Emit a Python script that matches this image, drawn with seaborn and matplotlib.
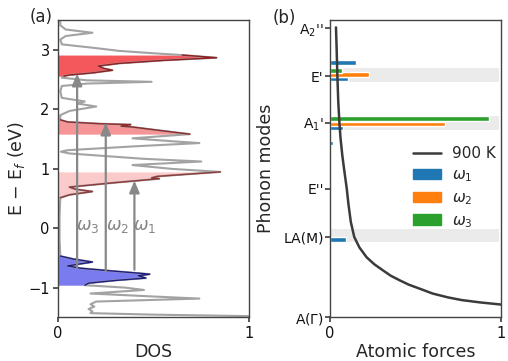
import numpy as np
import matplotlib
matplotlib.use("Agg")
import matplotlib.pyplot as plt
from matplotlib.lines import Line2D
from matplotlib.patches import Patch
import seaborn as sns

# ---------------- data: panel (a) DOS ----------------
dos_x = [0.012, 0.012, 0.04, 0.18, 0.04, 0.012, 0.02, 0.19, 0.32, 0.50,
         0.65, 0.83, 0.55, 0.32, 0.21, 0.24, 0.285, 0.18, 0.06, 0.03,
         0.02, 0.15, 0.49, 0.15, 0.02, 0.012, 0.02, 0.14, 0.10, 0.20,
         0.06, 0.012, 0.012, 0.05, 0.22, 0.38, 0.33, 0.39, 0.55, 0.69,
         0.39, 0.60, 0.74, 0.40, 0.05, 0.015, 0.06, 0.45, 0.75, 0.39,
         0.60, 0.85, 0.52, 0.49, 0.53, 0.30, 0.06, 0.09, 0.18, 0.06,
         0.012, 0.008, 0.008, 0.012, 0.08, 0.18, 0.05, 0.12, 0.28, 0.43,
         0.48, 0.42, 0.46, 0.30, 0.16, 0.14, 0.35, 0.45, 0.17, 0.50,
         0.74, 0.20, 0.17, 0.19, 0.16, 0.18, 0.17, 0.50, 1.20]
dos_e = [3.50, 3.41, 3.34, 3.285, 3.23, 3.17, 3.09, 3.03, 2.98, 2.94,
         2.91, 2.865, 2.82, 2.77, 2.725, 2.685, 2.655, 2.61, 2.575, 2.555,
         2.53, 2.485, 2.46, 2.43, 2.39, 2.30, 2.19, 2.13, 2.095, 2.045,
         1.97, 1.90, 1.82, 1.785, 1.755, 1.74, 1.715, 1.70, 1.635, 1.58,
         1.51, 1.46, 1.43, 1.375, 1.31, 1.285, 1.255, 1.165, 1.12, 1.06,
         0.995, 0.945, 0.87, 0.845, 0.83, 0.765, 0.69, 0.655, 0.615, 0.56,
         0.51, 0.20, -0.20, -0.47, -0.52, -0.57, -0.635, -0.675, -0.72, -0.76,
         -0.775, -0.80, -0.84, -0.88, -0.925, -0.96, -1.00, -1.04, -1.10, -1.15,
         -1.185, -1.235, -1.28, -1.32, -1.36, -1.40, -1.43, -1.455, -1.49]

# energy windows of the highlighted states (low, high)
win_low = [2.555, 1.58, 0.51, -0.96]
win_high = [2.91, 1.82, 0.945, -0.47]
win_fill = ["#f4585c", "#f69597", "#fbcaca", "#7b7bf0"]
win_edge = ["#8e1f22", "#8e2a2c", "#8e3a3a", "#1d1d80"]

# transitions
arrow_x = [0.40, 0.25, 0.10]
arrow_start = [-0.70, -0.72, -0.67]
arrow_end = [0.80, 1.775, 2.60]
arrow_labels = [r"$\omega_1$", r"$\omega_2$", r"$\omega_3$"]
label_x = [0.455, 0.31, 0.157]

# ---------------- data: panel (b) ----------------
mode_pos = [0.0, 0.270, 0.433, 0.654, 0.811, 0.972]
mode_labels = [r"A($\Gamma$)", "LA(M)", "E''", r"A$_1$'", "E'", r"A$_2$''"]

band_low = [0.792, 0.629, 0.253]
band_high = [0.837, 0.676, 0.297]

w1_pos = [0.857, 0.802, 0.638, 0.587, 0.262]
w1_val = [0.152, 0.107, 0.074, 0.020, 0.094]
w2_pos = [0.816, 0.651]
w2_val = [0.226, 0.673]
w3_pos = [0.830, 0.668]
w3_val = [0.070, 0.932]

curve_force = [1.0, 0.88, 0.77, 0.69, 0.60, 0.526, 0.46, 0.409, 0.355, 0.312,
               0.26, 0.214, 0.172, 0.142, 0.122, 0.108, 0.098, 0.082, 0.072,
               0.062, 0.055, 0.048, 0.043, 0.039, 0.035]
curve_mode = [0.043, 0.050, 0.058, 0.067, 0.080, 0.096, 0.110, 0.124, 0.140, 0.157,
              0.178, 0.202, 0.235, 0.270, 0.320, 0.380, 0.433, 0.500, 0.545,
              0.600, 0.654, 0.730, 0.815, 0.900, 0.975]

# ---------------- figure ----------------
sns.set_theme(style="ticks")
plt.rcParams["font.family"] = ["DejaVu Sans"]
spine_c = "#444444"
plt.rcParams.update({
    "axes.edgecolor": spine_c, "xtick.color": spine_c, "ytick.color": spine_c,
    "xtick.labelcolor": "#111111", "ytick.labelcolor": "#111111",
    "axes.linewidth": 1.0, "xtick.labelsize": 10.5, "ytick.labelsize": 10.5,
    "axes.labelsize": 12.5,
    "xtick.major.size": 3.5, "ytick.major.size": 3.5,
    "xtick.major.pad": 3.0, "ytick.major.pad": 2.5,
})

fig = plt.figure(figsize=(5.08, 3.61), dpi=100)
axa = fig.add_axes([0.1142, 0.1210, 0.376, 0.8237])
axb = fig.add_axes([0.6496, 0.1210, 0.3366, 0.8237])

# panel (a)
dx = np.array(dos_x)
de = np.array(dos_e)
axa.plot(dx, de, color="#a3a3a3", lw=1.5, zorder=2)
for lo, hi, fc, ec in zip(win_low, win_high, win_fill, win_edge):
    m = (de >= lo) & (de <= hi)
    axa.fill_betweenx(de[m], 0, dx[m], color=fc, lw=0, zorder=1)
    axa.plot(dx[m], de[m], color=ec, lw=1.0, zorder=3)

for x, y0, y1 in zip(arrow_x, arrow_start, arrow_end):
    axa.annotate("", xy=(x, y1), xytext=(x, y0),
                 arrowprops=dict(arrowstyle="-|>,head_length=0.6,head_width=0.25",
                                 color="#888888", lw=1.6, shrinkA=0, shrinkB=0),
                 zorder=4)
for lx, lab in zip(label_x, arrow_labels):
    axa.text(lx, 0.03, lab, color="#858585", fontsize=12.5, ha="center", va="center")

axa.set_xlim(0, 1)
axa.set_ylim(-1.5, 3.5)
axa.set_xticks([0, 1])
axa.set_yticks([-1, 0, 1, 2, 3])
axa.set_xlabel("DOS", labelpad=1)
axa.set_ylabel(r"E $-$ E$_f$ (eV)", labelpad=1)

# panel (b)
for lo, hi in zip(band_low, band_high):
    axb.axhspan(lo, hi, xmin=0, xmax=0.99, color="#ebebeb", lw=0, zorder=0)

pal = sns.color_palette("tab10")
h = 0.015
axb.barh(w1_pos, w1_val, height=h, color=pal[0], zorder=2)
axb.barh(w2_pos, w2_val, height=h, color=pal[1], zorder=2)
axb.barh(w3_pos, w3_val, height=h, color=pal[2], zorder=2)

sns.lineplot(x=curve_force, y=curve_mode, ax=axb, color="#3b3b3b", lw=1.8,
             sort=False, estimator=None, zorder=3)

axb.set_xlim(0, 1)
axb.set_ylim(0, 1)
axb.set_xticks([0, 1])
axb.set_yticks(mode_pos)
axb.set_yticklabels(mode_labels)
axb.tick_params(axis="y", labelsize=10, pad=1)
axb.set_xlabel("Atomic forces", labelpad=1)
axb.set_ylabel("Phonon modes", labelpad=6)

handles = [Line2D([0], [0], color="#3b3b3b", lw=1.8),
           Patch(color=pal[0]), Patch(color=pal[1]), Patch(color=pal[2])]
axb.legend(handles, ["900 K", r"$\omega_1$", r"$\omega_2$", r"$\omega_3$"],
           frameon=False, loc="upper left", bbox_to_anchor=(0.484, 0.575),
           borderpad=0, fontsize=11, handlelength=1.85, handletextpad=0.7,
           labelspacing=0.4, borderaxespad=0)

for ax in (axa, axb):
    for s in ax.spines.values():
        s.set_color(spine_c)

fig.text(41 / 508, 1 - 17 / 361, "(a)", fontsize=12, ha="center", va="center")
fig.text(284 / 508, 1 - 18 / 361, "(b)", fontsize=12, ha="center", va="center")

fig.savefig("out.png", dpi=100)
